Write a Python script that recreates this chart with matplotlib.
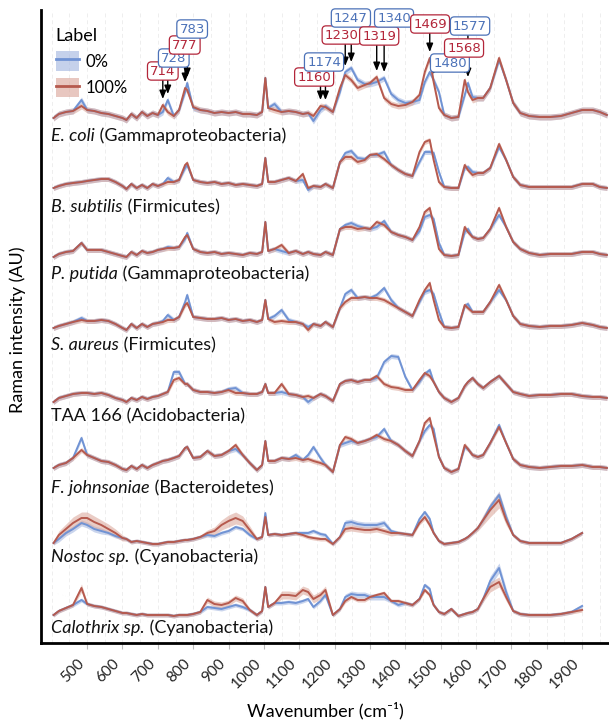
import numpy as np
import matplotlib
matplotlib.use("Agg")
import matplotlib.pyplot as plt
from matplotlib.patches import Patch
from matplotlib.lines import Line2D
from matplotlib.transforms import ScaledTranslation

plt.rcParams['font.family'] = ['Lato', 'DejaVu Sans']
nan = np.nan

# ---------------- data ----------------
WAVENUMBER = [405, 420, 440, 460, 484, 500, 520, 540, 560, 580,
              600, 611, 625, 640, 655, 670, 685, 700, 714, 728,
              745, 760, 777, 783, 800, 820, 840, 860, 880, 900,
              920, 940, 960, 980, 995, 1004, 1012, 1030, 1050, 1070,
              1090, 1110, 1125, 1140, 1160, 1174, 1195, 1215, 1230, 1247,
              1265, 1285, 1300, 1319, 1340, 1360, 1380, 1400, 1420, 1440,
              1455, 1469, 1480, 1495, 1510, 1530, 1550, 1568, 1577, 1590,
              1605, 1620, 1640, 1665, 1685, 1705, 1725, 1750, 1780, 1810,
              1840, 1870, 1900, 1930, 1950, 1970]

TICKS = [500, 600, 700, 800, 900, 1000, 1100, 1200, 1300, 1400,
         1500, 1600, 1700, 1800, 1900]

LABELS = ["0%", "100%"]

SPECIES = ["E. coli", "B. subtilis", "P. putida", "S. aureus", "TAA 166",
           "F. johnsoniae", "Nostoc sp.", "Calothrix sp."]
PHYLUM = ["Gammaproteobacteria", "Firmicutes", "Gammaproteobacteria", "Firmicutes",
          "Acidobacteria", "Bacteroidetes", "Cyanobacteria", "Cyanobacteria"]
ITALIC = [True, True, True, True, False, True, True, True]
OFFSET = [523, 453, 386, 313, 241, 170, 98, 26]

ECOLI_0 = [2, 6, 8, 9, 20, 10, 9, 7, 6, 4,
           2, 0, 6, 2, 8, 4, 7, 5, 8, 20,
           4, 10, 28, 37, 12, 10, 9, 7, 8, 7,
           8, 6, 6, 5, 8, 42, 12, 16, 8, 9,
           8, 6, 7, -1, 10, 14, 8, 28, 48, 52,
           40, 36, 36, 38, 42, 26, 20, 17, 18, 20,
           38, 48, 40, 28, 5, 2, 3, 25, 37, 23,
           22, 22, 32, 60, 40, 17, 7, 4, 3, 3,
           4, 7, 10, 10, 8, 5]
ECOLI_100 = [2, 6, 8, 9, 14, 10, 9, 7, 6, 4,
             2, 0, 6, 2, 8, 4, 7, 5, 15, 8,
             4, 10, 32, 30, 13, 10, 9, 7, 8, 7,
             8, 6, 6, 5, 8, 42, 12, 10, 8, 9,
             8, 6, 7, 4, 14, 13, 8, 32, 45, 40,
             32, 35, 37, 43, 22, 16, 14, 15, 18, 25,
             48, 62, 38, 12, 5, 2, 3, 40, 28, 20,
             22, 22, 32, 62, 40, 17, 7, 4, 3, 3,
             4, 7, 10, 10, 8, 5]

BSUB_0 = [2, 4, 6, 7, 8, 9, 10, 11, 11, 8,
          4, 1, 6, 2, 5, 2, 6, 4, 6, 12,
          8, 10, 22, 25, 10, 8, 7, 8, 6, 7,
          5, 6, 5, 4, 6, 32, 8, 8, 10, 12,
          9, 10, 0, 4, 3, 6, 2, 28, 37, 39,
          32, 31, 35, 35, 38, 25, 20, 16, 14, 28,
          38, 38, 37, 18, 3, 2, 2, 22, 23, 18,
          17, 17, 22, 43, 30, 13, 5, 3, 3, 3,
          3, 3, 6, 6, 3, 2]
BSUB_100 = [2, 4, 6, 7, 8, 9, 10, 11, 11, 8,
            4, 1, 6, 2, 5, 2, 6, 4, 6, 8,
            8, 10, 25, 27, 10, 8, 7, 8, 6, 7,
            5, 6, 5, 4, 6, 32, 8, 8, 10, 12,
            9, 16, 2, 4, 3, 6, 2, 28, 33, 33,
            28, 30, 35, 36, 31, 25, 20, 16, 14, 38,
            48, 50, 30, 8, 3, 2, 2, 25, 20, 15,
            17, 17, 22, 46, 30, 13, 5, 3, 3, 3,
            3, 3, 6, 6, 3, 2]

PPUT_0 = [0, 3, 5, 6, 14, 7, 7, 7, 5, 3,
          1, 0, 5, 2, 6, 4, 5, 7, 8, 10,
          9, 10, 18, 24, 8, 5, 4, 5, 3, 4,
          3, 2, 4, 3, 5, 35, 6, 8, 6, 4,
          6, 3, 5, 3, 2, 5, 2, 28, 32, 34,
          31, 29, 28, 30, 36, 25, 22, 20, 17, 26,
          40, 42, 38, 14, 2, 1, 2, 25, 28, 20,
          18, 19, 28, 42, 30, 15, 8, 4, 2, 3,
          3, 3, 5, 5, 3, 2]
PPUT_100 = [0, 3, 5, 6, 14, 7, 7, 7, 5, 3,
            1, 0, 5, 2, 6, 4, 5, 7, 8, 9,
            9, 10, 20, 22, 8, 5, 4, 5, 3, 4,
            3, 2, 4, 3, 5, 35, 6, 8, 12, 4,
            6, 3, 5, 3, 2, 5, 2, 28, 30, 30,
            28, 29, 28, 35, 32, 25, 22, 20, 17, 30,
            45, 49, 32, 8, 2, 1, 2, 30, 25, 20,
            18, 19, 28, 49, 30, 15, 8, 4, 2, 3,
            3, 3, 5, 5, 3, 2]

SAUR_0 = [2, 4, 6, 8, 12, 9, 9, 10, 9, 6,
          2, 0, 6, 2, 6, 3, 6, 7, 9, 15,
          10, 13, 28, 35, 13, 12, 11, 11, 12, 10,
          11, 9, 10, 8, 10, 30, 11, 14, 20, 10,
          8, 6, 3, 6, 4, 8, 3, 22, 36, 40,
          32, 33, 32, 35, 42, 30, 22, 18, 14, 28,
          38, 40, 36, 18, 3, 2, 3, 24, 26, 18,
          18, 18, 28, 40, 30, 14, 6, 4, 3, 4,
          4, 5, 7, 5, 3, 2]
SAUR_100 = [2, 4, 6, 8, 10, 9, 9, 10, 9, 6,
            2, 0, 6, 2, 6, 3, 6, 7, 8, 10,
            10, 13, 25, 27, 13, 12, 11, 11, 12, 10,
            11, 9, 10, 8, 10, 30, 11, 8, 9, 8,
            8, 6, 0, 6, 4, 8, 3, 22, 28, 32,
            32, 33, 32, 32, 30, 26, 22, 18, 14, 30,
            40, 47, 30, 10, 3, 2, 3, 25, 22, 18,
            18, 18, 28, 45, 30, 14, 6, 4, 3, 4,
            4, 5, 7, 5, 3, 2]

TAA_0 = [0, 4, 6, 8, 9, 9, 8, 9, 7, 4,
         2, 0, 4, 2, 5, 3, 5, 6, 8, 10,
         30, 30, 18, 18, 12, 10, 10, 9, 10, 13,
         14, 9, 8, 8, 10, 18, 9, 9, 10, 8,
         7, 5, 0, 4, 8, 6, 1, 18, 21, 22,
         20, 22, 22, 24, 40, 46, 45, 25, 12, 20,
         28, 32, 20, 10, 4, 0, 4, 16, 20, 24,
         18, 14, 20, 26, 18, 10, 8, 6, 7, 7,
         8, 8, 6, 5, 5, 4]
TAA_100 = [0, 4, 6, 8, 9, 9, 8, 9, 7, 4,
           2, 0, 4, 2, 5, 3, 5, 6, 8, 10,
           22, 24, 18, 18, 12, 10, 10, 9, 10, 12,
           9, 9, 8, 8, 10, 18, 9, 9, 18, 8,
           7, 5, 6, 4, 8, 6, 1, 18, 21, 22,
           20, 22, 22, 26, 18, 15, 14, 12, 12, 22,
           29, 26, 20, 10, 4, 0, 4, 16, 20, 24,
           18, 14, 20, 26, 18, 10, 8, 6, 7, 7,
           8, 8, 6, 5, 5, 4]

FJOH_0 = [5, 8, 10, 15, 35, 18, 15, 12, 11, 8,
          4, 3, 7, 4, 8, 5, 8, 10, 12, 13,
          15, 17, 25, 26, 15, 16, 22, 17, 18, 22,
          24, 18, 10, 3, 8, 32, 12, 12, 15, 14,
          18, 13, 18, 26, 15, 8, 1, 28, 30, 32,
          30, 32, 34, 36, 44, 32, 28, 22, 17, 32,
          42, 48, 44, 16, 5, 1, 4, 26, 24, 18,
          16, 18, 30, 48, 30, 14, 8, 6, 5, 6,
          7, 7, 8, 6, 6, 5]
FJOH_100 = [5, 8, 10, 15, 23, 18, 15, 12, 11, 8,
            4, 3, 7, 4, 8, 5, 8, 10, 12, 13,
            15, 17, 25, 26, 15, 16, 22, 17, 18, 22,
            28, 18, 10, 3, 8, 32, 12, 12, 15, 14,
            15, 13, 14, 12, 10, 8, 1, 28, 36, 34,
            30, 32, 34, 38, 34, 32, 28, 22, 17, 32,
            50, 55, 38, 16, 5, 1, 4, 28, 24, 18,
            16, 18, 30, 46, 30, 14, 8, 6, 5, 6,
            7, 7, 8, 6, 6, 5]

NOST_0 = [2, 6, 12, 16, 22, 20, 16, 14, 12, 9,
          7, 6, 3, 4, 3, 2, 1, 1, 2, 3,
          3, 4, 5, 5, 6, 8, 10, 9, 12, 14,
          18, 16, 10, 6, 8, 32, 10, 11, 10, 11,
          12, 12, 12, 14, 11, 10, 1, 8, 22, 23,
          21, 20, 20, 20, 22, 14, 12, 11, 10, 26,
          33, 26, 12, 4, 1, 2, 3, 6, 8, 12,
          17, 25, 38, 50, 28, 10, 4, 2, 2, 2,
          2, 6, 12, nan, nan, nan]
NOST_100 = [2, 10, 16, 22, 27, 27, 23, 20, 16, 12,
            7, 6, 3, 4, 3, 2, 1, 1, 2, 3,
            3, 4, 5, 5, 6, 8, 12, 14, 20, 24,
            27, 24, 15, 6, 8, 28, 10, 11, 10, 11,
            12, 10, 8, 7, 6, 6, 1, 8, 16, 17,
            16, 15, 15, 16, 14, 12, 12, 11, 10, 22,
            28, 20, 12, 4, 1, 2, 3, 6, 8, 12,
            17, 25, 35, 45, 25, 10, 4, 2, 2, 2,
            2, 6, 12, nan, nan, nan]

CALO_0 = [2, 6, 9, 12, 17, 13, 11, 10, 8, 6,
          4, 4, 3, 2, 3, 2, 2, 2, 2, 2,
          1, 2, 2, 2, 3, 5, 10, 9, 8, 10,
          12, 10, 7, 2, 6, 30, 10, 14, 14, 15,
          14, 16, 18, 10, 16, 22, 2, 8, 20, 23,
          22, 22, 20, 20, 20, 16, 12, 14, 12, 18,
          32, 28, 12, 5, 3, 8, 1, 3, 4, 5,
          8, 18, 36, 49, 25, 6, 3, 2, 2, 2,
          3, 5, 11, nan, nan, nan]
CALO_100 = [2, 6, 9, 12, 29, 13, 11, 10, 8, 6,
            4, 4, 3, 2, 3, 2, 2, 2, 2, 2,
            1, 2, 2, 2, 3, 5, 17, 13, 12, 14,
            19, 16, 7, 2, 6, 30, 10, 14, 22, 22,
            21, 27, 25, 18, 22, 27, 2, 8, 16, 20,
            17, 17, 20, 22, 24, 16, 16, 14, 12, 18,
            27, 22, 12, 5, 3, 8, 1, 3, 4, 5,
            8, 18, 30, 35, 20, 6, 3, 2, 2, 2,
            3, 5, 7, nan, nan, nan]

# spread (half width of the shaded band)
SPREAD_SCALAR_0 = [3, 2.5, 2.5, 2.5, 2.5, 2.5]
SPREAD_SCALAR_100 = [3, 2.5, 2.5, 2.5, 2.5, 2.5]
NOST_SD_0 = [2, 3, 3, 3, 3, 3, 3, 3, 2, 2,
             2, 2, 2, 2, 2, 2, 2, 2, 2, 2,
             2, 2, 2, 2, 2, 2, 2, 2, 2, 2,
             2, 2, 2, 2, 2, 2, 2, 2, 2, 2,
             2, 2, 2, 2, 2, 2, 2, 2, 3, 3,
             3, 3, 3, 3, 3, 2, 2, 2, 2, 2,
             2, 2, 2, 2, 2, 2, 2, 2, 2, 2,
             2, 3, 4, 4, 4, 2, 2, 2, 2, 2,
             2, 2, 2, nan, nan, nan]
NOST_SD_100 = [2, 4, 5, 6, 6, 6, 6, 5, 5, 4,
               3, 2, 2, 2, 2, 2, 2, 2, 2, 2,
               2, 2, 2, 2, 2, 2, 3, 4, 5, 6,
               6, 5, 4, 2, 2, 3, 2, 2, 2, 2,
               2, 2, 2, 2, 2, 2, 2, 2, 3, 3,
               3, 3, 3, 3, 3, 3, 2, 2, 2, 2,
               3, 3, 2, 2, 2, 2, 2, 2, 2, 2,
               3, 5, 7, 8, 5, 2, 2, 2, 2, 2,
               2, 2, 2, nan, nan, nan]
CALO_SD_0 = [2, 2, 2, 2, 2, 2, 2, 2, 2, 2,
             2, 2, 2, 2, 2, 2, 2, 2, 2, 2,
             2, 2, 2, 2, 2, 2, 2, 2, 2, 2,
             2, 2, 2, 2, 2, 2, 2, 2, 2, 2,
             2, 2, 2, 2, 2, 2, 2, 2, 3, 3,
             3, 3, 3, 3, 3, 2, 2, 2, 2, 2,
             2, 2, 2, 2, 2, 2, 2, 2, 2, 2,
             2, 3, 5, 5, 4, 2, 2, 2, 2, 2,
             2, 2, 2, nan, nan, nan]
CALO_SD_100 = [2, 2, 2, 2, 4, 2, 2, 2, 2, 2,
               2, 2, 2, 2, 2, 2, 2, 2, 2, 2,
               2, 2, 2, 2, 2, 2, 3, 3, 3, 3,
               3, 3, 2, 2, 2, 2, 2, 2, 4, 4,
               4, 4, 4, 4, 4, 4, 2, 2, 2, 2,
               2, 2, 2, 2, 2, 2, 2, 2, 2, 2,
               2, 2, 2, 2, 2, 2, 2, 2, 2, 2,
               2, 3, 5, 5, 4, 2, 2, 2, 2, 2,
               2, 2, 2, nan, nan, nan]

VALUES_0 = [ECOLI_0, BSUB_0, PPUT_0, SAUR_0, TAA_0, FJOH_0, NOST_0, CALO_0]
VALUES_100 = [ECOLI_100, BSUB_100, PPUT_100, SAUR_100, TAA_100, FJOH_100, NOST_100, CALO_100]
SD_0 = SPREAD_SCALAR_0 + [NOST_SD_0, CALO_SD_0]
SD_100 = SPREAD_SCALAR_100 + [NOST_SD_100, CALO_SD_100]

# peak annotations on the E. coli trace
PEAKS = [714, 728, 777, 783, 1160, 1174, 1230, 1247, 1319, 1340, 1469, 1480, 1568, 1577]
PEAK_LABEL = ["100%", "0%", "100%", "0%", "100%", "0%", "100%", "0%", "100%", "0%",
              "100%", "0%", "100%", "0%"]
# layout: label box centres (wavenumber, y)
BOX_POS = [(714, 572), (745, 585), (776, 598), (797, 614), (1142, 566), (1170, 581),
           (1220, 608), (1246, 625), (1326, 607), (1368, 625), (1470, 619), (1526, 580),
           (1566, 595), (1583, 617)]

# ---------------- style ----------------
BLUE = '#7093d4'
RED = '#b65a4e'
BLUE_BAND = '#9fb3df'
RED_BAND = '#d9a396'
BLUE_TXT = '#4c72b8'
RED_TXT = '#b3263a'

fig = plt.figure(figsize=(6.09, 7.22), dpi=100)
ax = fig.add_axes([41 / 609, (722 - 643) / 722, (609 - 41) / 609, (643 - 10) / 722])
ax.set_xlim(369.5, 1976)
ax.set_ylim(0, 633)

w = np.array(WAVENUMBER, dtype=float)
for i in range(len(SPECIES)):
    off = OFFSET[i]
    v0 = np.array(VALUES_0[i], dtype=float) + off
    v1 = np.array(VALUES_100[i], dtype=float) + off
    s0 = np.broadcast_to(np.array(SD_0[i], dtype=float), v0.shape)
    s1 = np.broadcast_to(np.array(SD_100[i], dtype=float), v1.shape)
    ax.fill_between(w, v0 - s0, v0 + s0, color=BLUE_BAND, alpha=0.55, lw=0, zorder=2)
    ax.fill_between(w, v1 - s1, v1 + s1, color=RED_BAND, alpha=0.55, lw=0, zorder=2)
    ax.plot(w, v0, color=BLUE, lw=1.4, zorder=3, solid_joinstyle='round')
    ax.plot(w, v1, color=RED, lw=1.4, zorder=3, solid_joinstyle='round')

# species labels
LABEL_DROP = [16, 17, 17, 15, 14, 15, 12, 11]
fig.canvas.draw()
renderer = fig.canvas.get_renderer()
for i in range(len(SPECIES)):
    y = OFFSET[i] - LABEL_DROP[i]
    t = ax.text(398, y, SPECIES[i], fontsize=13, style='italic' if ITALIC[i] else 'normal',
                va='center', ha='left', color='#111111', zorder=5)
    bb = t.get_window_extent(renderer=renderer)
    x_end = ax.transData.inverted().transform((bb.x1, bb.y0))[0]
    ax.text(x_end, y, " (" + PHYLUM[i] + ")", fontsize=13, va='center', ha='left',
            color='#111111', zorder=5)

# annotations
idx = {wn: k for k, wn in enumerate(WAVENUMBER)}
for pk, lab, (bx, by) in zip(PEAKS, PEAK_LABEL, BOX_POS):
    k = idx[pk]
    top = OFFSET[0] + max(ECOLI_0[k] + SD_0[0], ECOLI_100[k] + SD_100[0]) + 3
    col = BLUE_TXT if lab == "0%" else RED_TXT
    ax.annotate('', xy=(pk, top), xytext=(pk, by - 8),
                arrowprops=dict(arrowstyle='-|>,head_length=0.5,head_width=0.2',
                                color='black', lw=1.0, shrinkA=0, shrinkB=0),
                zorder=6)
    ax.text(bx, by, str(pk), color=col, fontsize=9.5, family='DejaVu Sans', ha='center',
            va='center', zorder=8,
            bbox=dict(boxstyle='round,pad=0.2,rounding_size=0.3', fc='white', ec=col, lw=0.9))

# axes styling
for s in ['top', 'right']:
    ax.spines[s].set_visible(False)
ax.spines['left'].set_linewidth(2)
ax.spines['bottom'].set_linewidth(2)
ax.set_yticks([])
ax.set_xticks(TICKS)
ax.set_xticklabels([])
ax.tick_params(axis='x', length=4, color='#bbbbbb', width=0.8)
lbl_tf = ax.get_xaxis_transform() + ScaledTranslation(-10 / 100, -13 / 100, fig.dpi_scale_trans)
for t in TICKS:
    ax.text(t, 0, str(t), transform=lbl_tf, rotation=45, ha='right', va='top',
            rotation_mode='anchor', fontsize=11, color='#222222', clip_on=False)
ax.set_xticks(list(range(400, 2000, 50)), minor=True)
ax.tick_params(axis='x', which='minor', length=0)
ax.grid(True, which='both', axis='x', color='#eeeeee', lw=0.7, ls=(0, (4, 3)), zorder=0)
ax.set_axisbelow(True)

fig.text(18 / 609, 1 - 330 / 722, 'Raman intensity (AU)', rotation=90, va='center',
         ha='center', fontsize=13)
fig.text(325 / 609, 1 - 711 / 722, 'Wavenumber (cm\u207b\u00b9)', va='center', ha='center',
         fontsize=13)

# legend
h0 = (Patch(facecolor=BLUE_BAND, alpha=0.6, edgecolor='none'), Line2D([], [], color=BLUE, lw=2))
h1 = (Patch(facecolor=RED_BAND, alpha=0.6, edgecolor='none'), Line2D([], [], color=RED, lw=2))
leg = ax.legend([h0, h1], LABELS, title='Label', loc='upper left',
                bbox_to_anchor=(0.005, 0.99), frameon=False, fontsize=12,
                title_fontsize=13, handlelength=1.4, handleheight=1.4,
                handletextpad=0.4, labelspacing=0.45, borderpad=0.2, alignment='left')
leg.set_zorder(10)

fig.savefig('out.png', dpi=100)
